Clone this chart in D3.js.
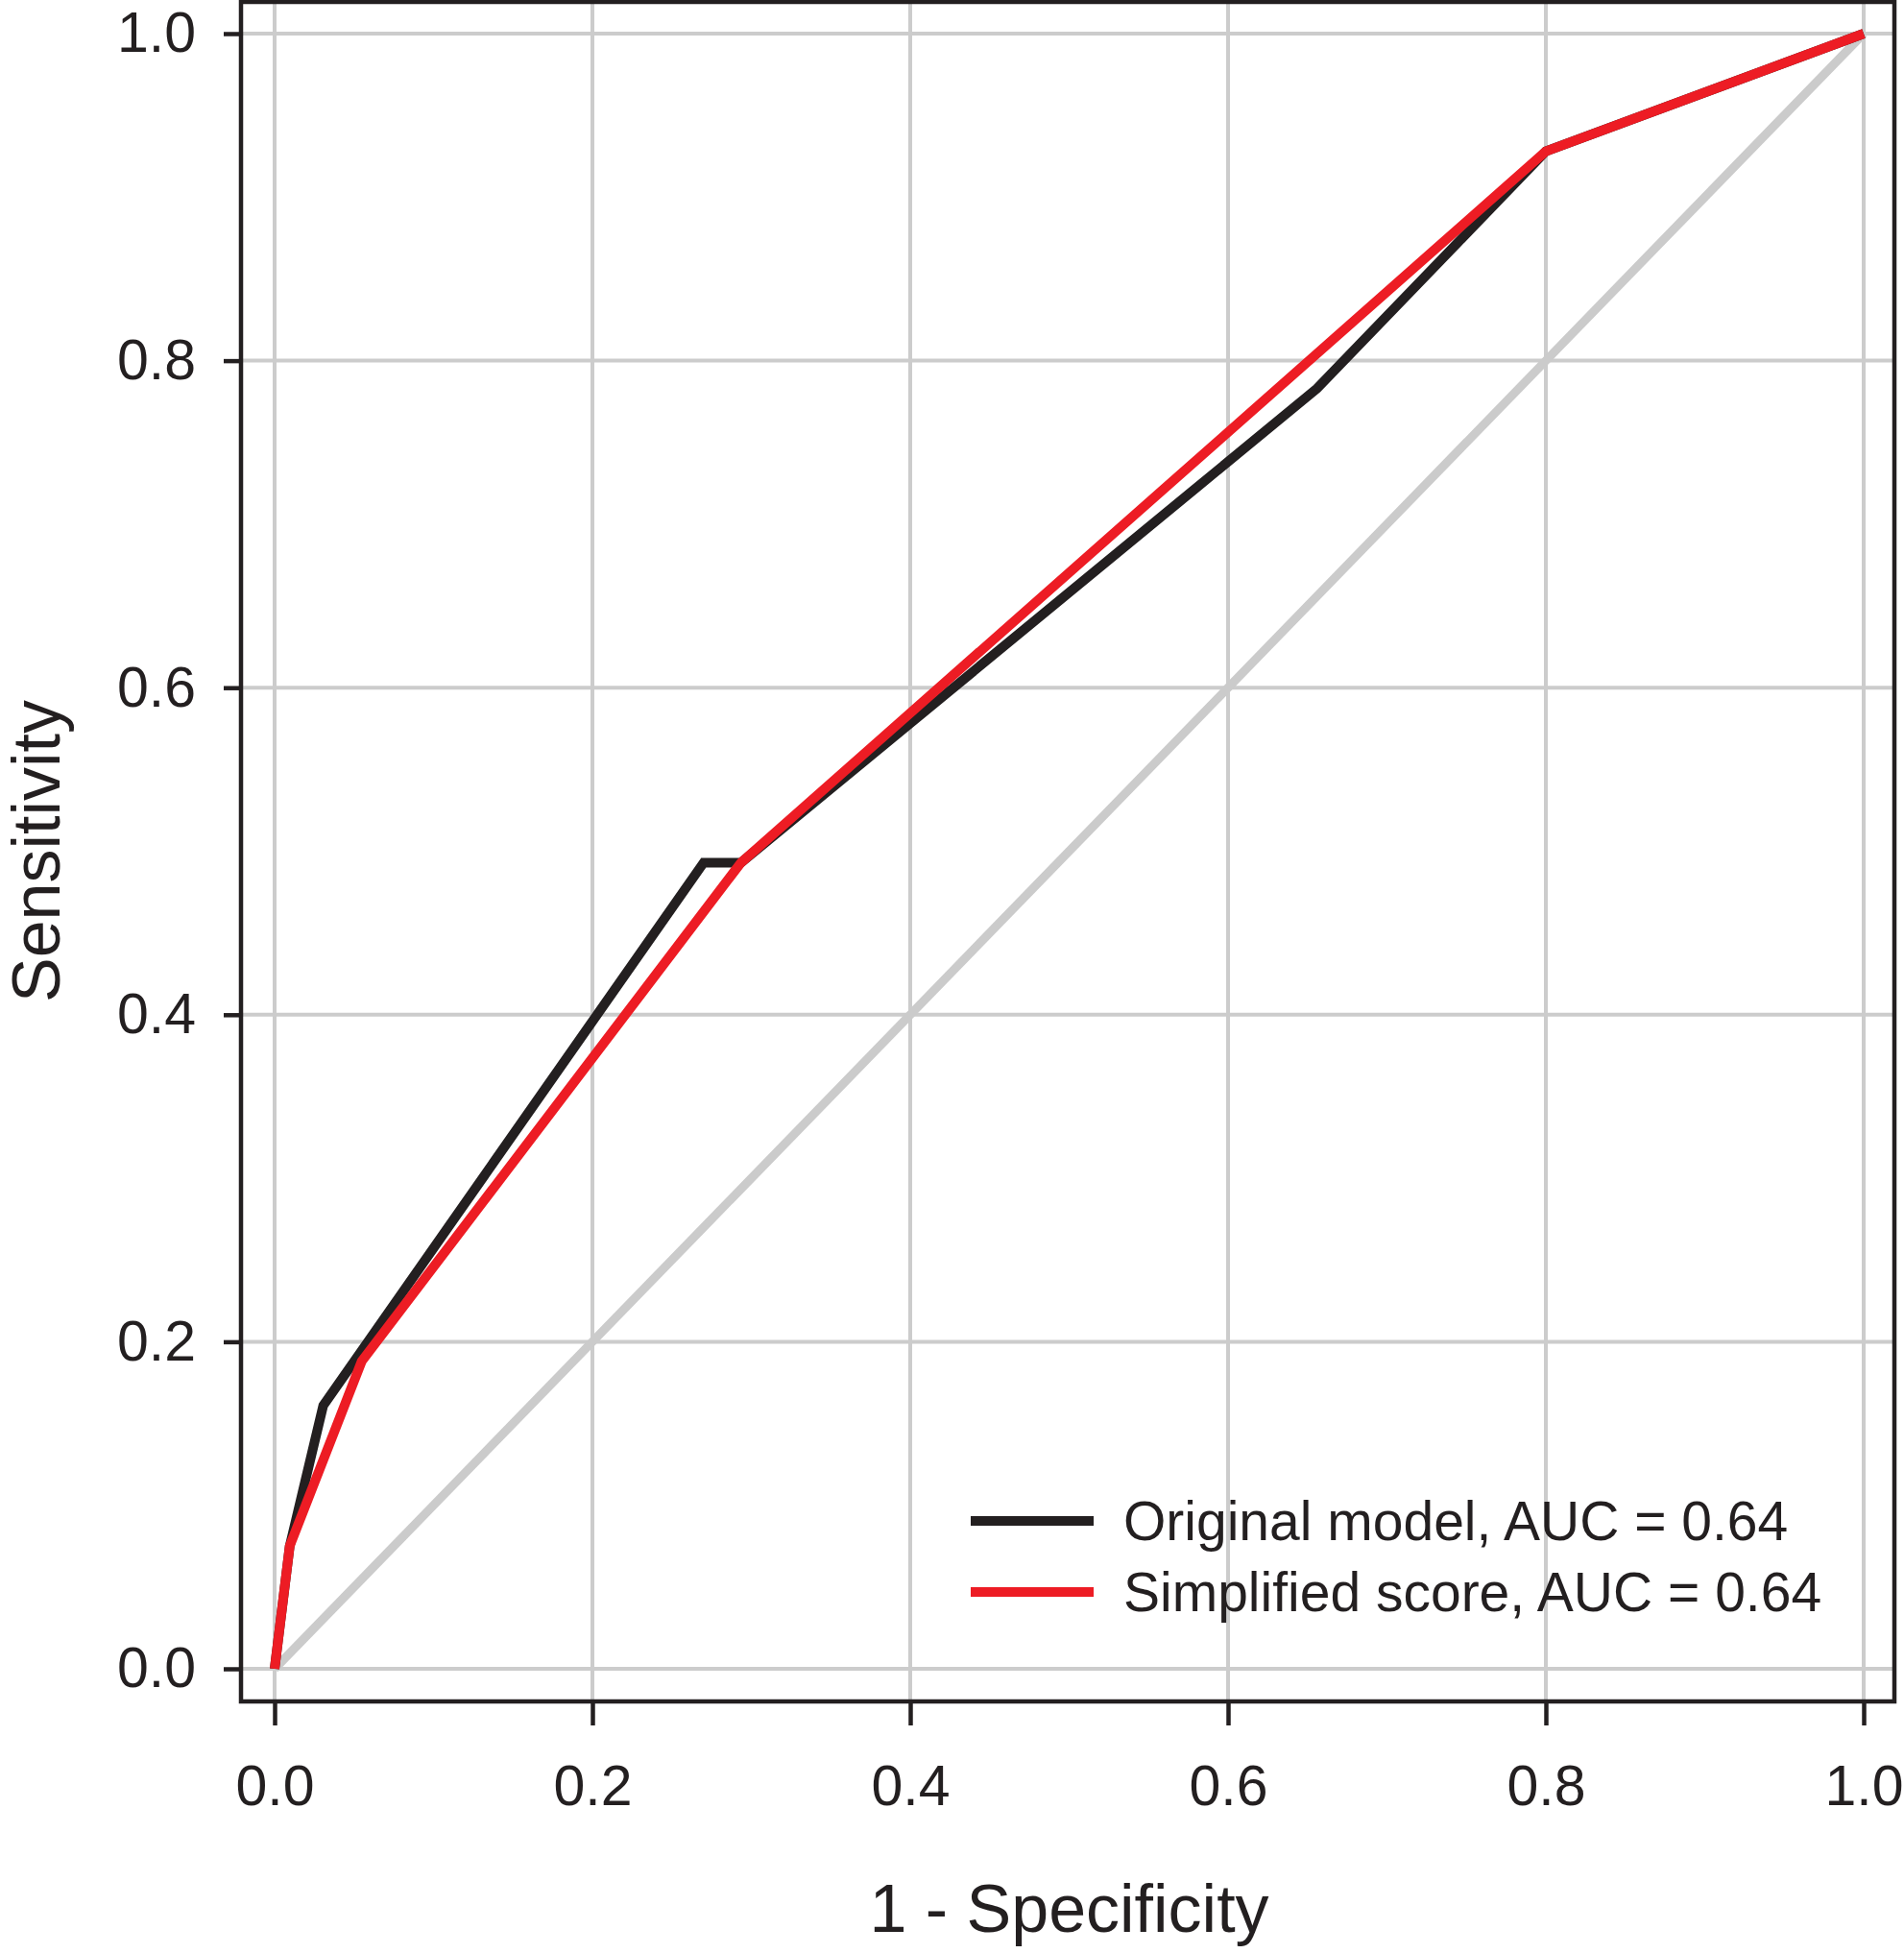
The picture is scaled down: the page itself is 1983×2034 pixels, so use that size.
<!DOCTYPE html>
<html>
<head>
<meta charset="utf-8">
<script src="https://cdn.jsdelivr.net/npm/d3@7"></script>
<style>
  body { margin: 0; background: #fff; }
  text { font-family: "Liberation Sans", Arial, Helvetica, sans-serif; fill: #231f20; }
</style>
</head>
<body>
<script>
// ROC curve values
var fprOriginal = [0, 0.0095, 0.0306, 0.270, 0.2935, 0.656, 0.800, 1];
var sensOriginal = [0, 0.075, 0.161, 0.493, 0.493, 0.783, 0.928, 1];

var fprSimplified = [0, 0.0095, 0.0548, 0.2935, 0.800, 1];
var sensSimplified = [0, 0.075, 0.188, 0.493, 0.928, 1];

var seriesNames = ["Original model, AUC = 0.64", "Simplified score, AUC = 0.64"];
var seriesColors = ["#231f20", "#ed1c24"];

var xTicks = [0, 0.2, 0.4, 0.6, 0.8, 1.0];
var yTicks = [0, 0.2, 0.4, 0.6, 0.8, 1.0];

var width = 1983, height = 2034;
var frame = { left: 251, right: 1973, top: 2, bottom: 1772 };

var svg = d3.select("body").append("svg")
    .attr("width", width)
    .attr("height", height);

var x = d3.scaleLinear().domain([0, 1]).range([286, 1941]);
var y = d3.scaleLinear().domain([0, 1]).range([1738, 35]);

// grid lines span the whole box
svg.selectAll(".vgrid")
    .data(xTicks)
    .enter()
    .append("line")
    .attr("x1", function (d) { return x(d); })
    .attr("x2", function (d) { return x(d); })
    .attr("y1", frame.top)
    .attr("y2", frame.bottom)
    .style("stroke", "#cccccc")
    .style("stroke-width", 4);

svg.selectAll(".hgrid")
    .data(yTicks)
    .enter()
    .append("line")
    .attr("y1", function (d) { return y(d); })
    .attr("y2", function (d) { return y(d); })
    .attr("x1", frame.left)
    .attr("x2", frame.right)
    .style("stroke", "#cccccc")
    .style("stroke-width", 4);

// reference diagonal
svg.append("line")
    .attr("x1", x(0)).attr("y1", y(0))
    .attr("x2", x(1)).attr("y2", y(1))
    .style("stroke", "#cbcbcb")
    .style("stroke-width", 9);

var line = d3.line()
    .x(function (d) { return x(d[0]); })
    .y(function (d) { return y(d[1]); });

var curves = [
    d3.zip(fprOriginal, sensOriginal),
    d3.zip(fprSimplified, sensSimplified)
];

svg.selectAll(".roc")
    .data(curves)
    .enter()
    .append("path")
    .attr("d", line)
    .style("fill", "none")
    .style("stroke", function (d, i) { return seriesColors[i]; })
    .style("stroke-width", 10)
    .style("stroke-linejoin", "miter");

// box
svg.append("rect")
    .attr("x", frame.left)
    .attr("y", frame.top)
    .attr("width", frame.right - frame.left)
    .attr("height", frame.bottom - frame.top)
    .style("fill", "none")
    .style("stroke", "#231f20")
    .style("stroke-width", 4.5);

// axes
var xAxis = svg.append("g")
    .attr("transform", "translate(0," + frame.bottom + ")")
    .call(d3.axisBottom(x).tickValues(xTicks).tickSize(25).tickPadding(41).tickFormat(d3.format(".1f")));

var yAxis = svg.append("g")
    .attr("transform", "translate(" + frame.left + ",0)")
    .call(d3.axisLeft(y).tickValues(yTicks).tickSize(18).tickPadding(29).tickFormat(d3.format(".1f")));

[xAxis, yAxis].forEach(function (g) {
    g.select(".domain").remove();
    g.selectAll(".tick line").style("stroke", "#231f20").style("stroke-width", 4.5);
    g.selectAll(".tick text")
        .style("font-family", "'Liberation Sans', Arial, sans-serif")
        .style("font-size", "59px")
        .style("fill", "#231f20");
});

// axis titles
svg.append("text")
    .attr("x", (x(0) + x(1)) / 2)
    .attr("y", 2012)
    .attr("text-anchor", "middle")
    .style("font-size", "70px")
    .text("1 - Specificity");

svg.append("text")
    .attr("transform", "translate(62," + (y(0) + y(1)) / 2 + ") rotate(-90)")
    .attr("text-anchor", "middle")
    .style("font-size", "70px")
    .text("Sensitivity");

// legend
var legend = svg.selectAll(".legend")
    .data(seriesNames)
    .enter()
    .append("g")
    .attr("transform", function (d, i) { return "translate(1011," + (1584 + i * 74) + ")"; });

legend.append("line")
    .attr("x1", 0).attr("x2", 128)
    .attr("y1", 0).attr("y2", 0)
    .style("stroke", function (d, i) { return seriesColors[i]; })
    .style("stroke-width", 10);

legend.append("text")
    .attr("x", 159)
    .attr("dy", "0.35em")
    .style("font-size", "57px")
    .text(function (d) { return d; });
</script>
</body>
</html>
